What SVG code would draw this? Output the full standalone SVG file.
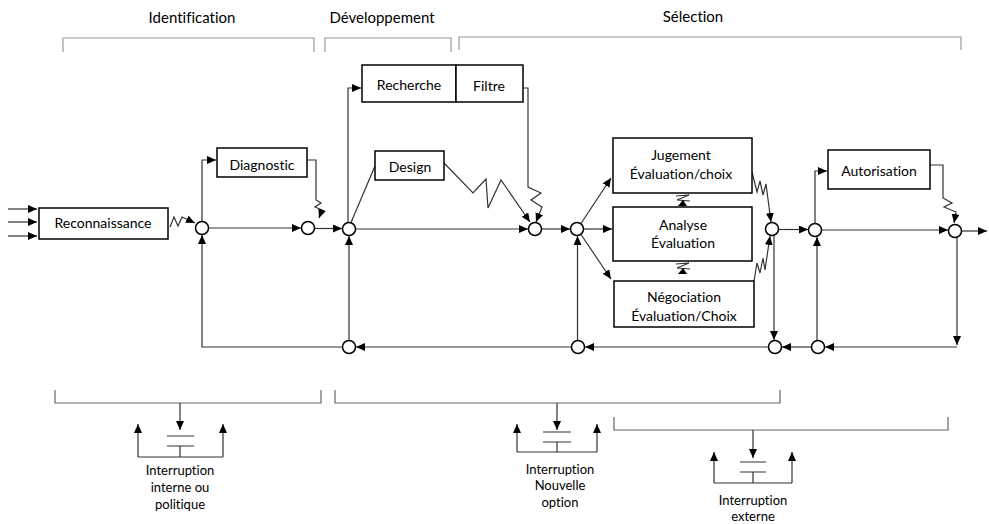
<svg xmlns="http://www.w3.org/2000/svg" width="989" height="524" viewBox="0 0 989 524">
<defs>
<marker id="ah" markerWidth="10" markerHeight="8" refX="9" refY="4" orient="auto" markerUnits="userSpaceOnUse"><path d="M0,0 L9,4 L0,8 z" fill="#000"/></marker>
<style>
text{font-family:Lato,"Open Sans","Liberation Sans",sans-serif;fill:#000;text-anchor:middle;font-variant-ligatures:none}
.t{font-size:14px}
.h{font-size:15px}
.s{font-size:13px}
.box{fill:#fff;stroke:#000;stroke-width:1.5}
.c{fill:#fff;stroke:#000;stroke-width:1.5}
.ln{fill:none;stroke:#333;stroke-width:1.2}
.ar{fill:none;stroke:#333;stroke-width:1.2;marker-end:url(#ah)}
.br{fill:none;stroke:#999;stroke-width:1.2}
.br2{fill:none;stroke:#666;stroke-width:1.2}
</style>
</defs>
<rect width="989" height="524" fill="#fff"/>

<g id="phases">
<text class="h" x="192" y="23">Identification</text>
<text class="h" x="382" y="23">Développement</text>
<text class="h" x="693" y="22">Sélection</text>
<path class="br" d="M63,52 V38 H314 V52"/>
<path class="br" d="M325,52 V38 H451 V52"/>
<path class="br" d="M459,50 V37 H961 V50"/>
</g>

<g id="connectors">
<path class="ar" d="M8,209 H37"/>
<path class="ar" d="M8,222 H37"/>
<path class="ar" d="M8,236 H37"/>
<polyline class="ar" points="170,227 174,217 178,226 182,217 195,223"/>
<path class="ar" d="M202,221.5 V160 H216"/>
<polyline class="ar" points="307,160 316,160 316,200 321,203 315,207 322,210 319,218"/>
<path class="ar" d="M208.5,228 H301"/>
<path class="ar" d="M314.5,228.5 H342"/>
<path class="ar" d="M355.5,229 H528"/>
<path class="ar" d="M541.5,229 H570"/>
<path class="ar" d="M583.5,229 H612"/>
<path class="ar" d="M581,223.5 L611,178"/>
<path class="ar" d="M581,234.5 L611,279"/>
<path class="ar" d="M348,222.5 V88 H361"/>
<polyline class="ar" points="523,88 528,88 528,187 541,193 531,200 542,207 536,222"/>
<path class="ln" d="M351,222.5 L375,166"/>
<polyline class="ar" points="444,163 473,193 486,179 488,208 501,180 530,222"/>
<polyline class="ar" points="752,172 757,192 760,181 763,195 766,184 771,222"/>
<polyline class="ar" points="754,281 757,263 760,273 763,258 765,270 770,236"/>
<polyline class="ln" points="676,196 689,195 677,200 690,201"/>
<path d="M678,206 L687,206 L683,200 z" fill="#000"/>
<polyline class="ln" points="676,264 689,263 677,268 690,269"/>
<path d="M678,274 L687,274 L683,268 z" fill="#000"/>
<path class="ar" d="M778.5,229.5 H808"/>
<path class="ar" d="M821.5,230 H948"/>
<path class="ar" d="M961.5,231 H987"/>
<path class="ar" d="M815,223.5 V171 H827"/>
<polyline class="ar" points="930,165 943,165 943,198 952,203 944,207 956,212 954,223"/>
<path class="ar" d="M774,235.5 V340"/>
<path class="ar" d="M957,237.5 V345"/>
<path class="ar" d="M957,347 H825"/>
<path class="ar" d="M817,340.5 V237"/>
<path class="ar" d="M811.5,347 H782"/>
<path class="ar" d="M768.5,347 H585"/>
<path class="ar" d="M571.5,347 H356"/>
<path class="ar" d="M577.5,340.5 V236"/>
<path class="ar" d="M349,340.5 V236"/>
<path class="ar" d="M342.5,347 H202 V235"/>
</g>

<g id="junctions">
<circle class="c" cx="202" cy="228" r="6.5"/>
<circle class="c" cx="308" cy="228" r="6.5"/>
<circle class="c" cx="349" cy="229" r="6.5"/>
<circle class="c" cx="535" cy="229" r="6.5"/>
<circle class="c" cx="577" cy="229" r="6.5"/>
<circle class="c" cx="772" cy="229" r="6.5"/>
<circle class="c" cx="815" cy="230" r="6.5"/>
<circle class="c" cx="955" cy="231" r="6.5"/>
<circle class="c" cx="349" cy="347" r="6.5"/>
<circle class="c" cx="578" cy="347" r="6.5"/>
<circle class="c" cx="775" cy="347" r="6.5"/>
<circle class="c" cx="818" cy="347" r="6.5"/>
</g>

<g id="reconnaissance"><rect class="box" x="39" y="208" width="129" height="31"/><text class="t" x="103" y="228">Reconnaissance</text></g>
<g id="diagnostic"><rect class="box" x="217" y="148" width="90" height="29"/><text class="t" x="262" y="170">Diagnostic</text></g>
<g id="recherche"><rect class="box" x="362" y="65" width="94" height="37"/><text class="t" x="409" y="90">Recherche</text></g>
<g id="filtre"><rect class="box" x="456" y="65" width="67" height="37"/><text class="t" x="489" y="91">Filtre</text></g>
<g id="design"><rect class="box" x="375" y="151" width="69" height="29"/><text class="t" x="410" y="172">Design</text></g>
<g id="jugement"><rect class="box" x="613" y="138" width="139" height="55"/><text class="t" x="681" y="160">Jugement</text><text class="t" x="681" y="179">Évaluation/choix</text></g>
<g id="analyse"><rect class="box" x="613" y="207" width="139" height="54"/><text class="t" x="683" y="230">Analyse</text><text class="t" x="683" y="248">Évaluation</text></g>
<g id="negociation"><rect class="box" x="614" y="281" width="140" height="46"/><text class="t" x="684" y="302">Négociation</text><text class="t" x="684" y="321">Évaluation/Choix</text></g>
<g id="autorisation"><rect class="box" x="828" y="150" width="102" height="39"/><text class="t" x="879" y="176">Autorisation</text></g>

<g id="interruption-interne">
<path class="br2" d="M55,390 V403 H321 V390"/>
<path class="ar" d="M180,403 V430"/>
<path class="ln" d="M167,436 H194 M167,446 H194 M180,446 V457 M138,457 H223"/>
<path class="ar" d="M138,457 V424"/>
<path class="ar" d="M223,457 V424"/>
<text class="s" x="180" y="475">Interruption</text>
<text class="s" x="180" y="492">interne ou</text>
<text class="s" x="180" y="509">politique</text>
</g>
<g id="interruption-option">
<path class="br2" d="M335,390 V403 H780 V390"/>
<path class="ar" d="M557,403 V430"/>
<path class="ln" d="M543,432 H571 M543,442 H571 M557,442 V452 M517,452 H597"/>
<path class="ar" d="M517,452 V424"/>
<path class="ar" d="M597,452 V424"/>
<text class="s" x="560" y="474">Interruption</text>
<text class="s" x="560" y="490">Nouvelle</text>
<text class="s" x="560" y="507">option</text>
</g>
<g id="interruption-externe">
<path class="br2" d="M614,417 V430 H948 V417"/>
<path class="ar" d="M753,430 V458"/>
<path class="ln" d="M740,462 H766 M740,472 H766 M753,472 V483 M714,483 H792"/>
<path class="ar" d="M714,483 V452"/>
<path class="ar" d="M792,483 V452"/>
<text class="s" x="753" y="505">Interruption</text>
<text class="s" x="753" y="521">externe</text>
</g>
</svg>
